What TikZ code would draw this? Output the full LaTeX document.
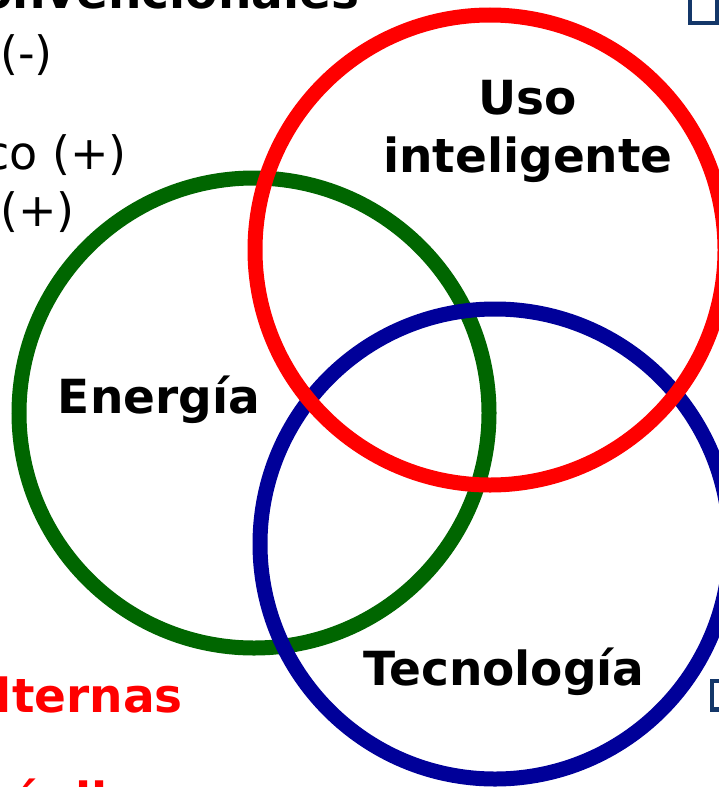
\documentclass[tikz,border=0pt]{standalone}
\usepackage{fontspec}
\setmainfont{DejaVu Sans}
\usepackage{xcolor}
\definecolor{anillorojo}{RGB}{255,0,0}
\definecolor{anilloverde}{RGB}{0,102,0}
\definecolor{anilloazul}{RGB}{0,0,153}
\definecolor{vineta}{RGB}{20,55,105}
\usepackage{tikz}
\usetikzlibrary{positioning}

\begin{document}
\begin{tikzpicture}[
      x=1pt, y=-1pt,
      anillo/.style={line width=15pt},
      titulo/.style={font=\fontsize{47}{58}\selectfont\bfseries, inner sep=0pt, align=center},
      lista/.style={font=\fontsize{46}{55}\selectfont, inner sep=0pt, anchor=base west},
      listab/.style={font=\fontsize{47}{56}\selectfont\bfseries, inner sep=0pt, anchor=base west}
    ]
      \useasboundingbox (0,0) rectangle (719,787);
      \clip (0,0) rectangle (719,787);

      % texto recortado a la izquierda
      \node[listab] (conv) at (-20,9) {onvencionales};
      \node[lista] (menos) at (0,69) {(-)};
      \node[lista] (mas1) at (-16,169) {co (+)};
      \node[lista] (mas2) at (0,226) {(+)};
      \node[listab, text=anillorojo] (altern) at (-36,712) {alternas};
      \node[listab, text=anillorojo] (hidra) at (-102,816) {Hidráulica};

      % viñetas recortadas a la derecha
      \fill[vineta] (688,-10) rectangle (719,25);
      \fill[white] (692,-10) rectangle (715,21);
      \fill[vineta] (710,679) rectangle (730,712);
      \fill[white] (714,683) rectangle (730,707);

      % anillos
      \draw[anillo, anilloverde] (254,413) circle (235);
      \draw[anillo, anilloazul] (495,544) circle (235);
      \draw[anillo, anillorojo] (490,250) circle (235);

      \node[titulo, anchor=base] (uso) at (528,172) {Uso\\inteligente};
      \node[titulo, anchor=base] (energia) at (159,413) {Energía};
      \node[titulo, anchor=base] (tecno) at (504,685) {Tecnología};
    \end{tikzpicture}
\end{document}
